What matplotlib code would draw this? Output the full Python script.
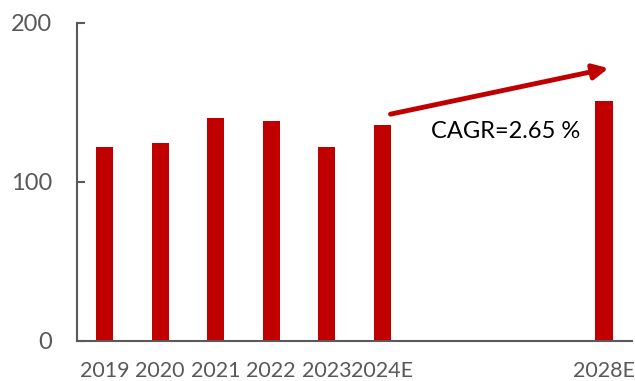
import matplotlib
matplotlib.use('Agg')
import matplotlib.pyplot as plt

# données
annees = ['2019', '2020', '2021', '2022', '2023', '2024E', '2028E']
positions = [0, 1, 2, 3, 4, 5, 9]
valeurs = [122, 124.7, 140.3, 138.2, 121.8, 135.8, 150.7]
yticks = [0, 100, 200]
cagr_txt = 'CAGR=2.65 %'

plt.rcParams['font.family'] = ['Lato', 'DejaVu Sans']
gris = '#595959'
rouge = '#C00000'

fig = plt.figure(figsize=(6.35, 3.81), dpi=100)
ax = fig.add_axes([0.1213, 0.105, 0.8737, 0.835])

ax.bar(positions, valeurs, width=0.31, color=rouge)

ax.set_xlim(-0.5, 9.5)
ax.set_ylim(0, 200)
ax.set_xticks(positions)
ax.set_xticklabels(annees)
ax.set_yticks(yticks)

for s in ['top', 'right']:
    ax.spines[s].set_visible(False)
for s in ['left', 'bottom']:
    ax.spines[s].set_color(gris)
    ax.spines[s].set_linewidth(1.5)

ax.tick_params(axis='y', direction='in', length=6, width=1.5, color=gris,
               labelcolor=gris, labelsize=17, pad=18)
ax.tick_params(axis='x', length=0, labelcolor=gris, labelsize=15.5, pad=14.5)

# flèche du CAGR
ax.annotate('', xy=(9.08, 171.5), xytext=(5.15, 142.6),
            arrowprops=dict(arrowstyle='-|>,head_length=0.9,head_width=0.45',
                            color=rouge, lw=3.5, shrinkA=0, shrinkB=0))
ax.text(7.23, 131.6, cagr_txt, fontsize=17, color='black', ha='center', va='center')

plt.savefig('out.png', dpi=100)
